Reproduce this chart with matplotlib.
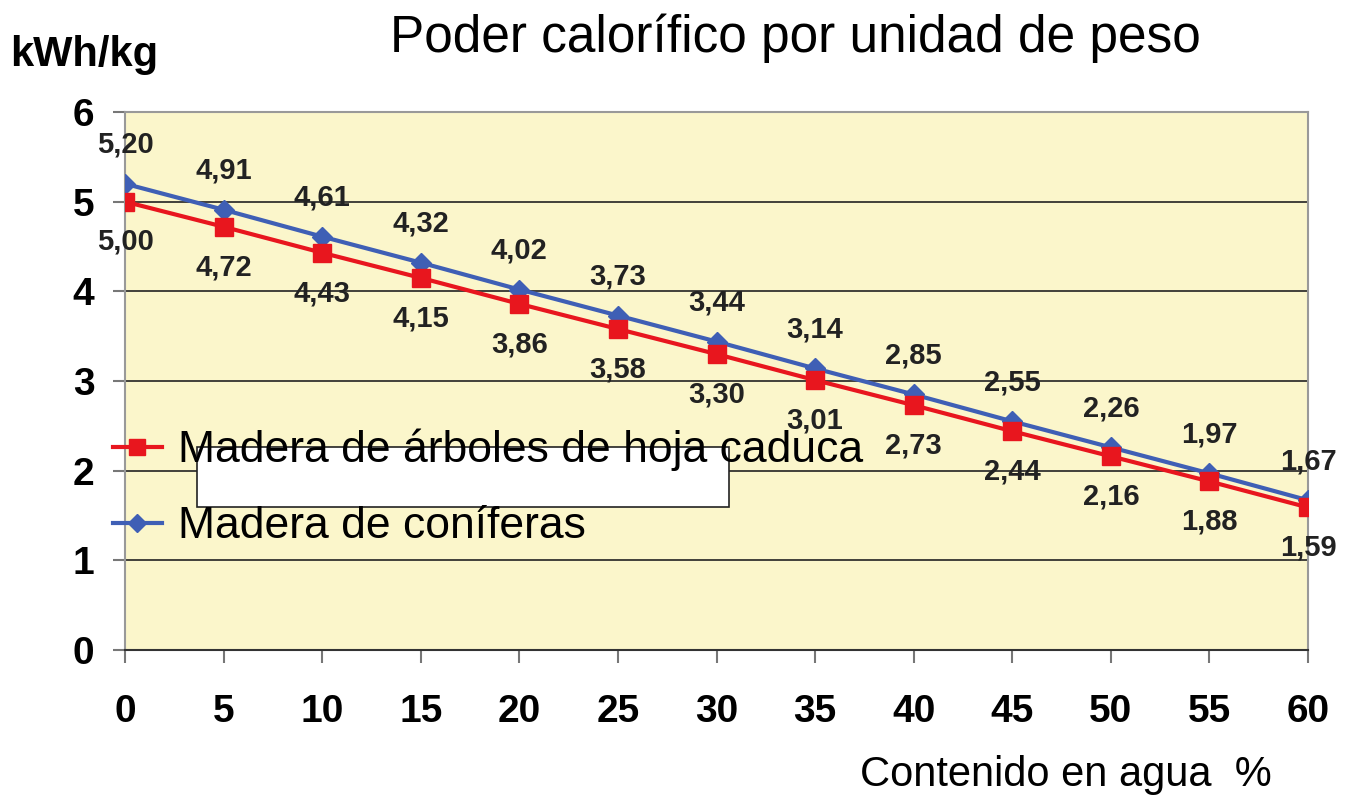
import matplotlib.pyplot as plt
from matplotlib.patches import Rectangle
from matplotlib.lines import Line2D

plt.rcParams['font.family'] = ['Liberation Sans', 'DejaVu Sans']

# datos
agua = [0, 5, 10, 15, 20, 25, 30, 35, 40, 45, 50, 55, 60]
caduca = [5.00, 4.72, 4.43, 4.15, 3.86, 3.58, 3.30, 3.01, 2.73, 2.44, 2.16, 1.88, 1.59]
coniferas = [5.20, 4.91, 4.61, 4.32, 4.02, 3.73, 3.44, 3.14, 2.85, 2.55, 2.26, 1.97, 1.67]
nombres = ['Madera de árboles de hoja caduca', 'Madera de coníferas']

W, H = 1352, 799
fig = plt.figure(figsize=(W / 100, H / 100), dpi=100)
ax = fig.add_axes([125 / W, 1 - 650 / H, (1308 - 125) / W, (650 - 112) / H])
ax.set_facecolor('#FBF6CB')

rojo = '#E8161E'
azul = '#3F5FB5'

ax.plot(agua, coniferas, color=azul, lw=3, marker='D', ms=10, zorder=4,
        label=nombres[1])
ax.plot(agua, caduca, color=rojo, lw=3, marker='s', ms=13, zorder=5,
        label=nombres[0])

# etiquetas de datos
for x, v in zip(agua, coniferas):
    ax.annotate(f'{v:.2f}'.replace('.', ','), (x, v), xytext=(0, 28),
                textcoords='offset points', ha='center', va='center',
                fontsize=21, fontweight='bold', color='#222222', zorder=6)
for x, v in zip(agua, caduca):
    ax.annotate(f'{v:.2f}'.replace('.', ','), (x, v), xytext=(0, -29),
                textcoords='offset points', ha='center', va='center',
                fontsize=21, fontweight='bold', color='#222222', zorder=6)

ax.set_xlim(0, 60)
ax.set_ylim(0, 6)
ax.set_xticks(agua)
ax.set_yticks(range(0, 7))
for y in range(1, 6):
    ax.axhline(y, color='#222222', lw=1.2, zorder=1)

for s in ['top', 'right', 'left']:
    ax.spines[s].set_color('#999999')
    ax.spines[s].set_linewidth(1.5)
ax.spines['bottom'].set_color('#333333')
ax.spines['bottom'].set_linewidth(1.5)

ax.tick_params(axis='x', length=9, width=1.5, color='#777777', pad=23,
               labelsize=28)
ax.tick_params(axis='y', length=9, width=1.5, color='#777777', pad=13,
               labelsize=28)
for lab in ax.get_xticklabels() + ax.get_yticklabels():
    lab.set_fontweight('bold')

# recuadro blanco detrás de la leyenda
ax.add_patch(Rectangle((197 / W, 1 - 507 / H), (729 - 197) / W, 60 / H,
                       transform=fig.transFigure, facecolor='white',
                       edgecolor='#222222', lw=1.2, zorder=7, clip_on=False))

# leyenda
leg = ax.legend(handles=[
    Line2D([], [], color=rojo, lw=3, marker='s', ms=11),
    Line2D([], [], color=azul, lw=3, marker='D', ms=9)],
    labels=nombres, loc='upper left',
    bbox_to_anchor=(113 / W, 1 - 429 / H), bbox_transform=fig.transFigure,
    frameon=False, fontsize=32, handlelength=1.1, handletextpad=0.36,
    labelspacing=0.78, borderpad=0, borderaxespad=0)
leg.set_zorder(8)

fig.text(795 / W, 1 - 38 / H, 'Poder calorífico por unidad de peso',
         ha='center', va='center', fontsize=37)
fig.text(10 / W, 1 - 55 / H, 'kWh/kg', ha='left', va='center', fontsize=30,
         fontweight='bold')
fig.text(1272 / W, 1 - 775 / H, 'Contenido en agua  %', ha='right',
         va='center', fontsize=30)

fig.savefig('out.png', dpi=100)
